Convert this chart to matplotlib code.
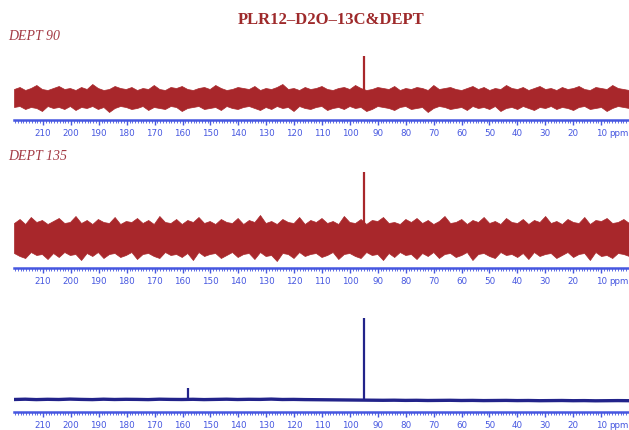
import numpy as np
import matplotlib
matplotlib.use("Agg")
import matplotlib.pyplot as plt
import matplotlib.transforms as mtransforms
from matplotlib.ticker import MultipleLocator, FixedLocator

# ==========================================
# Data
# ==========================================
title = "PLR12\u2013D2O\u201313C&DEPT"
panel_labels = ["DEPT 90", "DEPT 135"]
tick_ppm = [210, 200, 190, 180, 170, 160, 150, 140, 130, 120, 110,
            100, 90, 80, 70, 60, 50, 40, 30, 20, 10]

# noise envelopes (intensity above / below baseline), sampled every 2 ppm, 220 -> 0
d90_top = [9, 11, 8, 10, 13, 9, 8, 10, 12, 9,
           10, 8, 11, 9, 14, 10, 8, 9, 12, 10,
           9, 11, 8, 10, 9, 13, 9, 8, 11, 10,
           12, 9, 8, 10, 11, 9, 13, 10, 8, 9,
           11, 10, 9, 12, 8, 10, 9, 11, 14, 9,
           10, 8, 11, 9, 10, 12, 9, 8, 10, 11,
           9, 13, 10, 8, 9, 11, 10, 9, 12, 8,
           10, 9, 11, 10, 8, 13, 9, 10, 11, 9,
           8, 10, 12, 9, 11, 8, 10, 9, 13, 10,
           9, 11, 8, 10, 12, 9, 10, 8, 11, 9,
           10, 12, 9, 8, 11, 10, 9, 13, 10, 9, 8]
d90_bot = [-9, -8, -11, -9, -10, -13, -8, -10, -9, -11,
           -8, -12, -9, -10, -8, -11, -9, -14, -10, -8,
           -9, -11, -10, -8, -12, -9, -10, -11, -8, -9,
           -13, -10, -9, -8, -11, -10, -9, -12, -8, -10,
           -11, -9, -8, -10, -12, -9, -11, -8, -10, -9,
           -13, -8, -10, -11, -9, -8, -12, -10, -9, -11,
           -8, -10, -9, -13, -11, -8, -9, -10, -12, -9,
           -8, -11, -10, -9, -14, -10, -8, -9, -11, -10,
           -9, -12, -8, -10, -9, -11, -8, -13, -10, -9,
           -11, -8, -10, -12, -9, -10, -8, -11, -9, -10,
           -12, -9, -8, -11, -10, -9, -13, -10, -8, -9, -10]
d135_top = [15, 19, 14, 21, 16, 18, 14, 17, 20, 15,
            16, 22, 15, 18, 14, 19, 16, 15, 21, 14,
            17, 16, 20, 15, 18, 14, 22, 16, 15, 19,
            14, 18, 16, 21, 15, 17, 14, 19, 16, 15,
            20, 14, 18, 16, 23, 15, 17, 14, 19, 16,
            15, 21, 14, 18, 16, 20, 15, 17, 14, 22,
            16, 15, 19, 14, 18, 17, 21, 15, 16, 14,
            19, 16, 20, 15, 18, 14, 17, 22, 15, 16,
            19, 14, 18, 16, 21, 15, 17, 14, 20, 16,
            15, 19, 14, 18, 16, 22, 15, 17, 14, 19,
            16, 15, 21, 14, 18, 17, 20, 15, 16, 19, 15]
d135_bot = [-15, -18, -20, -14, -17, -16, -21, -15, -19, -14,
            -17, -16, -22, -15, -18, -14, -20, -16, -15, -19,
            -17, -14, -21, -16, -15, -18, -20, -14, -17, -16,
            -19, -15, -22, -14, -18, -16, -15, -20, -17, -14,
            -19, -16, -15, -21, -14, -18, -17, -23, -15, -16,
            -20, -14, -18, -16, -15, -19, -17, -14, -21, -16,
            -15, -18, -20, -14, -17, -16, -22, -15, -19, -14,
            -17, -16, -21, -15, -18, -14, -20, -16, -15, -19,
            -17, -14, -22, -16, -15, -18, -20, -14, -17, -16,
            -19, -15, -21, -14, -18, -16, -15, -20, -17, -14,
            -19, -16, -15, -22, -14, -18, -17, -20, -15, -16, -18]
# 13C baseline, sampled every 4 ppm, 220 -> 0
c13_base = [0.5, 0.8, 0.4, 0.7, 0.5, 0.9, 0.6, 0.4, 0.8, 0.5, 0.7, 0.6, 0.4, 0.8, 0.6, 0.5, 0.7, 0.4, 0.6, 0.8,
            0.5, 0.7, 0.6, 0.9, 0.5, 0.6, 0.4, 0.3, 0.2, 0.1, 0.0, -0.1, -0.2, -0.3, -0.2, -0.4, -0.3, -0.5, -0.4, -0.3,
            -0.5, -0.4, -0.6, -0.5, -0.4, -0.6, -0.5, -0.7, -0.6, -0.5, -0.7, -0.6, -0.8, -0.7, -0.6, -0.7]

# peaks: position (ppm) and height
d90_peak_ppm = [95.0]
d90_peak_h = [42]
d135_peak_ppm = [95.0]
d135_peak_h = [66]
c13_peak_ppm = [95.0, 158.0]
c13_peak_h = [82, 12]

RED = "#a8272b"
NAVY = "#22238a"
AXBLUE = "#4657e0"
LABEL_RED = "#a33a44"

# ==========================================
# Figure
# ==========================================
W, H = 629, 430
fig = plt.figure(figsize=(W / 100, H / 100), dpi=100)

# axes boxes in pixels: (axis line y, top y, y-limits)
boxes = [(120, 40, (-22, 58)), (268, 165, (-30, 73)), (412, 310, (-12, 90))]
x_left, x_right = 14, 629
XMAX, XMIN = 220.4, 0

axes = []
for axis_y, top_y, ylim in boxes:
    ax = fig.add_axes([x_left / W, 1 - axis_y / H, (x_right - x_left) / W, (axis_y - top_y) / H])
    ax.set_xlim(XMAX, XMIN)
    ax.set_ylim(*ylim)
    for s in ["top", "right", "left"]:
        ax.spines[s].set_visible(False)
    ax.spines["bottom"].set_color(AXBLUE)
    ax.spines["bottom"].set_linewidth(1.8)
    ax.set_yticks([])
    ax.xaxis.set_major_locator(FixedLocator(tick_ppm))
    ax.xaxis.set_minor_locator(MultipleLocator(1))
    ax.tick_params(axis="x", which="major", direction="out", length=3.5, width=1,
                   color=AXBLUE, labelcolor=AXBLUE, labelsize=6.3, pad=3)
    ax.tick_params(axis="x", which="minor", direction="out", length=2, width=0.6, color=AXBLUE)
    # "ppm" unit label at the end of the axis
    trans = (mtransforms.blended_transform_factory(ax.transData, ax.transAxes)
             + mtransforms.ScaledTranslation(0, -6.5 / 72, fig.dpi_scale_trans))
    ax.text(6.9, 0, "ppm", color=AXBLUE, fontsize=6.3, ha="left", va="top",
            transform=trans, clip_on=False)
    axes.append(ax)

ax1, ax2, ax3 = axes

x90 = np.linspace(XMAX, XMIN, len(d90_top))
ax1.fill_between(x90, d90_bot, d90_top, color=RED, lw=0.5)
ax1.vlines(d90_peak_ppm, 0, d90_peak_h, color=RED, lw=1.6)

x135 = np.linspace(XMAX, XMIN, len(d135_top))
ax2.fill_between(x135, d135_bot, d135_top, color=RED, lw=0.5)
ax2.vlines(d135_peak_ppm, 0, d135_peak_h, color=RED, lw=1.6)

xc = np.linspace(XMAX, XMIN, len(c13_base))
ax3.plot(xc, c13_base, color=NAVY, lw=2.4)
ax3.vlines(c13_peak_ppm, 0, c13_peak_h, color=NAVY, lw=1.6)

# titles / labels
fig.text(331 / W, 1 - 20 / H, title, ha="center", va="center", color="#9e2a2b",
         fontsize=12, fontweight="bold", family="Liberation Serif")
fig.text(8 / W, 1 - 37 / H, panel_labels[0], ha="left", va="center", color=LABEL_RED,
         fontsize=10, style="italic", family="Liberation Serif")
fig.text(8 / W, 1 - 156 / H, panel_labels[1], ha="left", va="center", color=LABEL_RED,
         fontsize=10, style="italic", family="Liberation Serif")

plt.savefig("out.png", dpi=100)
plt.close()
